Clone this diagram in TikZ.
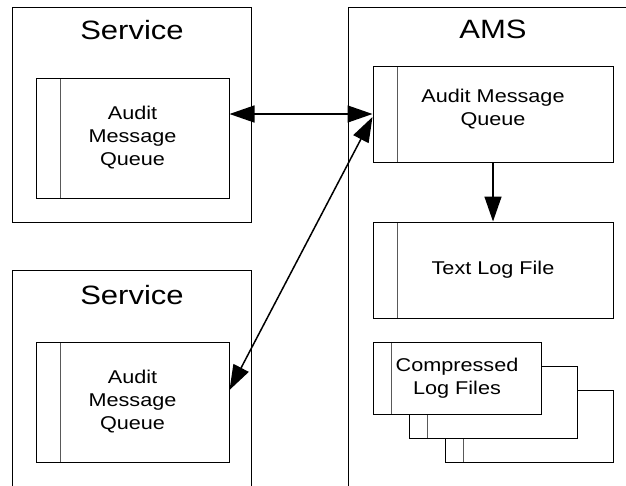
\documentclass[tikz,border=0pt]{standalone}
\usepackage{fontspec}
\setmainfont{Liberation Sans}[FakeStretch=1.17]
\usepackage{tikz}
\usetikzlibrary{arrows.meta}

\begin{document}
\begin{tikzpicture}[x=1pt, y=-1pt, line width=1pt,
    >={Triangle[length=25pt, width=17pt]},
    outer/.style={draw=black, rectangle, inner sep=0pt},
    title/.style={anchor=base, font=\fontsize{26.5}{30}\selectfont},
    queue/.style={draw=black, rectangle, fill=white, inner sep=0pt, align=center,
      font=\fontsize{18.5}{23}\selectfont,
      path picture={\draw[black!65] ([xshift=#1]path picture bounding box.north west)
        -- ([xshift=#1]path picture bounding box.south west);}},
    queue/.default=24pt,
    flow/.style={line width=1.5pt}]
    \clip (0, 0) rectangle (626, 485);
    % containers
    \node [outer, minimum width=239, minimum height=215] (SvcT) at (131.5, 114.5) {};
    \node [outer, minimum width=239, minimum height=260] (SvcB) at (131.5, 400) {};
    \node [outer, minimum width=352, minimum height=513] (AMS) at (524, 263.5) {};
    \node [title] (SvcTtitle) at (132, 39) {Service};
    \node [title] (SvcBtitle) at (132, 304) {Service};
    \node [title] (AMStitle) at (493, 38) {AMS};
    % queues and files
    \node [queue, minimum width=193, minimum height=120] (QT) at (132.5, 138) {Audit\\Message\\Queue};
    \node [queue, minimum width=193, minimum height=120] (QB) at (132.5, 402) {Audit\\Message\\Queue};
    \node [queue, minimum width=240, minimum height=96, text depth=14pt] (QA) at (493, 114) {Audit Message\\Queue};
    \node [queue, minimum width=240, minimum height=96] (TLF) at (493, 270) {Text Log File};
    \node [queue=18pt, minimum width=168, minimum height=72] (CF3) at (529, 426) {};
    \node [queue=18pt, minimum width=168, minimum height=72] (CF2) at (493, 402) {};
    \node [queue=18pt, minimum width=168, minimum height=72] (CF1) at (457, 378) {Compressed\\Log Files};
    % messages
    \draw [flow, <->] (QA.west -| QT.east) -- (QA.west);
    \draw [flow, <->] ([yshift=12pt]QB.east) -- ([yshift=-3pt]QA.west);
    \draw [flow, ->] (QA.south) -- (TLF.north);
\end{tikzpicture}
\end{document}
